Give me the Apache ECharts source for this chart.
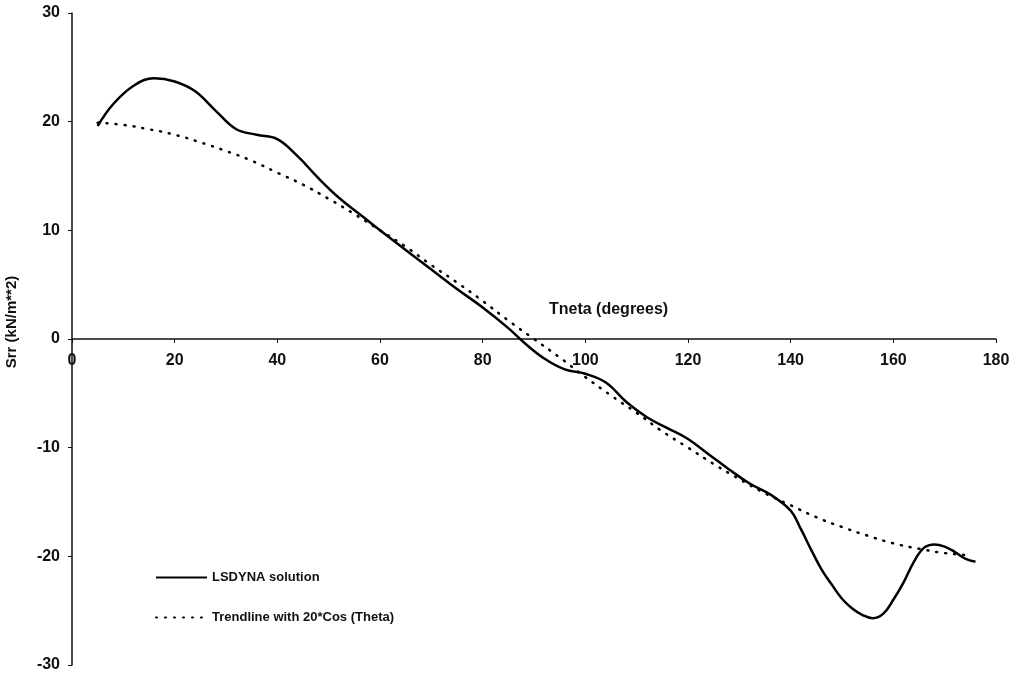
<!DOCTYPE html>
<html>
<head>
<meta charset="utf-8">
<script src="https://cdn.jsdelivr.net/npm/echarts@6/dist/echarts.min.js"></script>
<style>html,body{margin:0;padding:0;background:#fff}#c{width:1018px;height:675px}</style>
</head>
<body>
<div id="c"></div>
<script>
// Theta (degrees) and Srr values
const lsdynaTheta = [5, 8, 12, 16, 20, 24, 28, 32, 36, 40, 44, 48, 52, 56, 60, 65, 70, 75, 80, 85, 88, 92, 96, 100, 104, 108, 112, 116, 120, 124, 128, 132, 136, 140, 142, 144, 146, 148, 150, 152, 154, 156, 158, 160, 162, 164, 166, 168, 170, 172, 174, 176];
const lsdynaSrr = [19.6, 21.6, 23.3, 24.0, 23.7, 22.8, 21.0, 19.3, 18.8, 18.4, 16.8, 14.8, 13.0, 11.5, 10.0, 8.2, 6.4, 4.6, 2.9, 1.0, -0.3, -1.8, -2.8, -3.2, -4.0, -5.8, -7.2, -8.2, -9.2, -10.6, -12.0, -13.3, -14.3, -15.8, -17.5, -19.4, -21.2, -22.6, -23.9, -24.8, -25.4, -25.7, -25.3, -24.0, -22.4, -20.5, -19.2, -18.9, -19.1, -19.6, -20.2, -20.5];
const trendTheta = [5, 10, 15, 20, 25, 30, 35, 40, 45, 50, 55, 60, 65, 70, 75, 80, 85, 90, 95, 100, 105, 110, 115, 120, 125, 130, 135, 140, 145, 150, 155, 160, 165, 170, 175];
const trendSrr = [19.9, 19.7, 19.3, 18.8, 18.1, 17.3, 16.4, 15.3, 14.2, 12.9, 11.5, 10.0, 8.5, 6.8, 5.2, 3.5, 1.7, 0.0, -1.7, -3.5, -5.2, -6.8, -8.5, -10.0, -11.5, -12.9, -14.2, -15.3, -16.4, -17.3, -18.1, -18.8, -19.3, -19.7, -19.9];
const seriesNames = ['LSDYNA solution', 'Trendline with 20*Cos (Theta)'];
const xTitle = 'Tneta (degrees)';
const yTitle = 'Srr (kN/m**2)';

const pair = (xs, ys) => xs.map((x, i) => [x, ys[i]]);
const font = '"Liberation Sans", Arial, sans-serif';
const gridTop = 13, gridBottom = 10, H = 675;
const halfHeight = (H - gridTop - gridBottom) / 2;
const chart = echarts.init(document.getElementById('c'));
chart.setOption({
  animation: false,
  backgroundColor: '#fff',
  grid: { left: 72, right: 22, top: gridTop, bottom: gridBottom, containLabel: false, outerBoundsMode: 'none' },
  xAxis: {
    type: 'value', min: 0, max: 180, interval: 20, position: 'bottom', offset: -halfHeight,
    axisLine: { onZero: false, lineStyle: { color: '#111', width: 1.5 } },
    axisTick: { show: true, length: 4, lineStyle: { color: '#111' } },
    axisLabel: { color: '#111', fontFamily: font, fontSize: 16, fontWeight: 'bold', margin: 14 },
    splitLine: { show: false }
  },
  yAxis: {
    type: 'value', min: -30, max: 30, interval: 10,
    axisLine: { show: true, onZero: false, lineStyle: { color: '#111', width: 1.5 } },
    axisTick: { show: true, length: 4, lineStyle: { color: '#111' } },
    axisLabel: { color: '#111', fontFamily: font, fontSize: 16, fontWeight: 'bold', margin: 12 },
    splitLine: { show: false }
  },
  legend: {
    orient: 'vertical', left: 150, top: 566, itemWidth: 51, itemHeight: 14, itemGap: 27,
    itemStyle: { opacity: 0 },
    textStyle: { color: '#111', fontFamily: font, fontSize: 13, fontWeight: 'bold' },
    data: seriesNames
  },
  graphic: [
    { type: 'text', left: 549, top: 302, style: { text: xTitle, fill: '#111', font: 'bold 16px ' + font } },
    { type: 'text', x: 12, y: 322, rotation: Math.PI / 2, style: { text: yTitle, fill: '#111', font: 'bold 15px ' + font, align: 'center', verticalAlign: 'middle' } }
  ],
  series: [
    { name: seriesNames[0], type: 'line', data: pair(lsdynaTheta, lsdynaSrr), smooth: 0.4, symbol: 'none',
      lineStyle: { color: '#000', width: 2.5 }, itemStyle: { color: '#000' } },
    { name: seriesNames[1], type: 'line', data: pair(trendTheta, trendSrr), smooth: true, symbol: 'none',
      lineStyle: { color: '#000', width: 2.5, type: [1, 8], cap: 'round' }, itemStyle: { color: '#000' } }
  ]
});
</script>
</body>
</html>
